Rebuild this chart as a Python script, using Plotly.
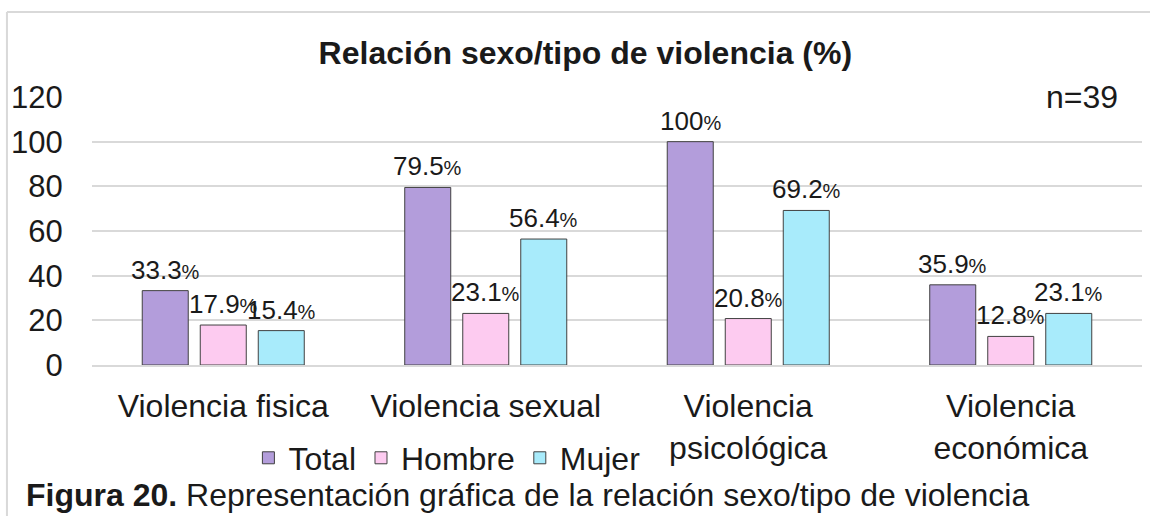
import plotly.graph_objects as go

# Data
categories = ["Violencia fisica", "Violencia sexual", "Violencia<br>psicológica", "Violencia<br>económica"]
series_names = ["Total", "Hombre", "Mujer"]
total = [33.3, 79.5, 100, 35.9]
hombre = [17.9, 23.1, 20.8, 12.8]
mujer = [15.4, 56.4, 69.2, 23.1]
y_ticks = [0, 20, 40, 60, 80, 100, 120]
n_label = "n=39"

colors = ["#B39DDB", "#FDCBF0", "#A8EBFB"]
font_family = "Liberation Sans, Arial, sans-serif"

fig = go.Figure()
for name, vals, col in zip(series_names, [total, hombre, mujer], colors):
    fig.add_trace(go.Bar(x=categories, y=vals, name=name,
                         marker=dict(color=col, line=dict(color="#404040", width=1))))

# Data labels (Excel style: number plus a smaller % sign)
slot = 58  # pixel offset between bars in a group
for j, vals in enumerate([total, hombre, mujer]):
    for cat, v in zip(categories, vals):
        fig.add_annotation(x=cat, y=v, xref="x", yref="y",
                           text=f"{v:g}<span style='font-size:20px'>%</span>",
                           showarrow=False, yanchor="bottom", xanchor="center",
                           xshift=(j - 1) * slot, yshift=4,
                           font=dict(size=26, color="#1a1a1a", family=font_family))

fig.add_annotation(x=0.943, y=120, xref="paper", yref="y", text=n_label,
                   showarrow=False, xanchor="center", yanchor="middle",
                   font=dict(size=32, color="#1a1a1a", family=font_family))

# Caption under the chart
fig.add_annotation(x=-0.065, y=-0.485, xref="paper", yref="paper",
                   text="<b>Figura 20.</b> Representación gráfica de la relación sexo/tipo de violencia",
                   showarrow=False, xanchor="left", yanchor="middle",
                   font=dict(size=32, color="#1a1a1a", family=font_family))

# Chart frame (left and top edges visible)
fig.add_shape(type="line", xref="paper", yref="paper", x0=-0.081, x1=-0.081, y0=1.317, y1=-0.6,
              line=dict(color="#D9D9D9", width=2))
fig.add_shape(type="line", xref="paper", yref="paper", x0=-0.081, x1=1.02, y0=1.317, y1=1.317,
              line=dict(color="#D9D9D9", width=2))

fig.update_layout(
    width=1150, height=516,
    margin=dict(l=92, r=8, t=97, b=151),
    paper_bgcolor="white", plot_bgcolor="white",
    barmode="group", bargap=0.337, bargroupgap=0.207,
    font=dict(family=font_family, size=32, color="#1a1a1a"),
    title=dict(text="<b>Relación sexo/tipo de violencia (%)</b>", x=0.509, xanchor="center",
               y=0.897, yanchor="middle", font=dict(size=32, color="#1a1a1a", family=font_family)),
    legend=dict(orientation="h", x=0.338, xanchor="center", y=-0.347, yanchor="middle",
                font=dict(size=32, family=font_family), bgcolor="rgba(0,0,0,0)",
                itemwidth=30),
    showlegend=True,
)
fig.update_yaxes(range=[0, 120], tickvals=y_ticks, showgrid=True, gridcolor="#D9D9D9", gridwidth=1.5,
                 zeroline=False, showline=False, ticks="outside", ticklen=0, ticklabelstandoff=22,
                 tickfont=dict(size=31))
fig.update_xaxes(showline=True, linecolor="#D9D9D9", linewidth=1.5, ticks="",
                 ticklabelstandoff=12, tickfont=dict(size=32), tickangle=0)

# drop the default page margin so the figure sits at the window's corner
fig.write_html("out.html", config={"displayModeBar": False},
               post_script="document.body.style.margin='0';")
